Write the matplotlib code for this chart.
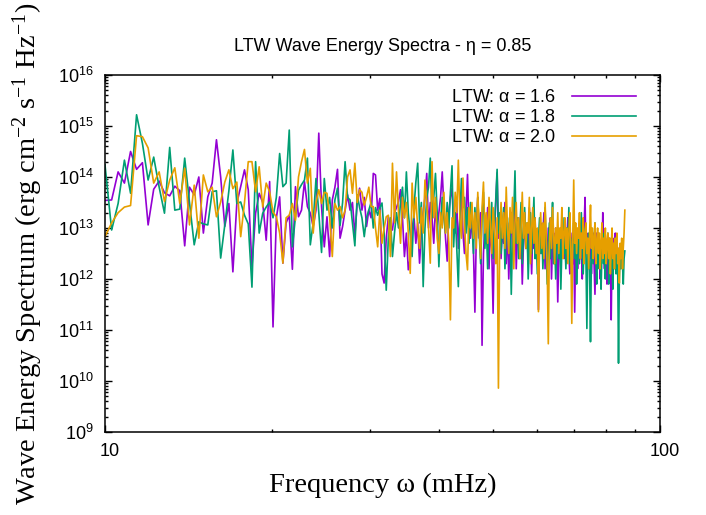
import matplotlib.pyplot as plt
import numpy as np
from matplotlib.transforms import ScaledTranslation

plt.rcParams['font.family'] = 'Liberation Sans'
plt.rcParams['mathtext.fontset'] = 'custom'
plt.rcParams['mathtext.rm'] = 'Liberation Serif'
plt.rcParams['mathtext.it'] = 'Liberation Serif:italic'
plt.rcParams['mathtext.sf'] = 'Liberation Sans'

# frequency grid (mHz)
f_start = 10.0
df = 0.28

# log10 of spectrum
alpha16 = [
    13.54, 13.55, 14.10, 13.88, 14.50, 14.15, 14.28, 13.06, 13.76, 13.92, 13.69, 13.63, 13.82, 13.73, 12.65, 13.80, 13.65, 14.00, 12.90,
    13.61, 13.88, 14.73, 14.00, 13.03, 13.48, 12.14, 13.48, 13.81, 14.14, 13.75, 12.24, 13.29, 13.68, 13.50, 12.76, 13.91, 11.06, 13.20, 13.61, 12.31, 13.10, 13.25,
    12.19, 13.81, 13.22, 13.35, 13.91, 13.42, 13.29, 13.03, 13.35, 14.86, 13.42, 12.63, 13.22, 12.44, 13.55, 13.80, 14.15, 12.80, 13.03, 13.35, 13.65,
    13.35, 13.50, 12.86, 13.50, 13.78, 13.35, 13.60, 13.03, 13.35, 13.20, 14.07, 14.04, 13.35,
    13.58, 12.1, 11.92, 12.8, 13.22, 13.0, 12.96, 13.3, 13.4, 13.52, 13.75, 13.2, 12.44, 12.9, 12.18, 12.4, 13.0, 13.22, 12.7, 13.1,
    12.31, 12.9, 13.3, 13.6, 14.07, 13.0, 13.5, 13.2, 12.7, 13.4, 13.0, 13.3, 13.6, 14.1, 13.4, 12.8, 12.35, 13.3, 13.6, 13.78,
    13.1, 12.9, 13.5, 12.6, 13.2, 13.7, 12.9, 12.5, 13.3, 14.05, 13.0, 12.8,
    13.2, 12.6, 11.35, 12.9, 13.6, 12.8, 13.3, 10.7, 12.5, 13.1, 12.7, 13.4, 12.2, 13.0, 12.6, 11.33, 12.9, 13.5, 14.08, 12.8,
    13.2, 12.4, 13.0, 12.7, 13.5, 12.3, 13.1, 12.0, 12.8, 13.3, 12.5, 12.9, 13.6, 12.2, 12.9, 13.2, 12.4, 13.0, 11.9, 12.7,
    13.3, 12.6, 13.0, 12.3, 13.4, 12.8, 12.1, 13.0, 12.6, 13.2, 12.4, 12.9, 11.4, 12.8, 13.1, 12.5, 12.9, 13.3, 12.2, 12.8,
    12.4, 13.0, 12.6, 13.2, 12.0, 12.7, 12.9, 12.3, 13.0, 12.6, 11.55, 12.5, 12.9, 12.2, 13.1, 12.7, 12.4, 13.0, 12.3, 12.8,
    13.2, 12.5, 12.1, 12.9, 12.6, 12.3, 12.8, 11.35, 12.6, 12.9, 12.2, 12.7, 13.1, 12.4, 12.8, 12.0, 12.6, 13.0, 13.6, 12.5,
    12.9, 12.2, 12.7, 12.4, 13.0, 12.1, 12.6, 12.9, 12.3, 11.7, 12.6, 12.9, 12.2, 12.8, 12.5, 12.0, 12.7, 12.4, 13.3, 12.6,
    12.2, 12.8, 12.5, 11.9, 12.6, 12.3, 12.8, 12.4, 11.2, 12.5, 12.8, 12.2, 12.6, 12.9, 12.3, 12.7, 12.1, 12.6, 12.4, 12.55,
]

alpha18 = [
    14.24, 12.96, 13.48, 14.33, 13.68, 15.22, 14.66, 13.94, 14.39, 13.80, 13.29, 14.58, 13.35, 13.37, 14.37, 13.50, 12.67, 13.12, 13.08,
    13.06, 13.71, 13.73, 12.41, 13.06, 13.73, 14.53, 13.48, 13.51, 13.25, 13.08, 11.84, 14.30, 12.90, 13.29, 13.41, 13.51, 13.20, 13.60, 14.46, 13.81, 13.88, 14.92,
    12.63, 13.22, 13.74, 13.85, 13.94, 14.37, 12.67, 13.10, 13.97, 13.30, 12.52, 13.97, 13.35, 13.60, 13.00, 13.55, 13.78,
    13.05, 13.50, 14.30, 13.60, 13.55, 13.10, 12.65, 13.65, 13.40, 13.20, 12.83, 13.20, 13.35, 13.50, 13.00, 13.40, 13.25,
    13.4, 13.49, 12.9, 11.78, 12.8, 13.2, 12.44, 12.9, 13.3, 13.0, 13.5, 13.8, 13.2, 14.1, 13.3, 12.9, 12.44, 13.4, 13.9, 14.27,
    13.1, 13.5, 11.85, 13.0, 13.6, 13.8, 14.37, 13.2, 13.6, 14.07, 13.3, 12.24, 13.1, 13.6, 13.2, 12.9, 13.5, 13.0, 13.7, 14.22,
    12.63, 13.3, 12.6, 11.85, 13.2, 13.97, 13.4, 13.6, 12.9, 13.4, 12.7, 13.5,
    13.1, 12.5, 13.4, 12.8, 13.6, 12.9, 12.3, 13.2, 13.7, 12.6, 13.1, 12.2, 13.3, 12.8, 13.5, 12.4, 13.0, 13.6, 14.15, 12.9,
    13.3, 12.5, 13.0, 13.4, 12.2, 12.9, 13.2, 12.6, 13.0, 11.7, 12.8, 13.3, 14.12, 12.7, 13.2, 12.4, 13.0, 13.5, 12.3, 12.9,
    13.4, 12.6, 13.1, 12.0, 12.7, 13.3, 12.5, 13.0, 13.6, 12.4, 12.9, 12.1, 12.8, 13.2, 12.5, 13.0, 12.2, 12.8, 13.4, 12.6,
    11.9, 12.7, 13.1, 12.4, 12.9, 13.5, 12.3, 12.8, 12.0, 12.6, 13.0, 12.4, 12.9, 11.8, 12.6, 13.2, 12.5, 12.8, 12.2, 13.0,
    12.6, 13.4, 12.3, 12.8, 12.1, 12.7, 13.1, 12.4, 12.9, 11.9, 12.6, 13.0, 12.3, 12.8, 13.3, 12.5, 12.1, 12.7, 13.0, 12.4,
    11.03, 12.6, 12.9, 12.2, 10.77, 12.5, 12.9, 12.3, 12.7, 13.1, 12.4, 11.9, 12.6, 12.9, 12.2, 12.7, 11.8, 12.5, 12.9, 12.3,
    12.6, 12.0, 12.7, 12.4, 12.9, 11.9, 12.5, 12.2, 12.8, 12.4, 11.8, 12.6, 12.3, 12.8, 12.1, 12.5, 12.2, 10.35, 12.0, 12.5,
    12.2, 12.6, 12.3, 11.9, 12.4, 12.55,
]

alpha20 = [
    12.83, 13.10, 13.30, 13.41, 13.44, 14.81, 14.79, 14.57, 13.88, 14.10, 13.52, 13.94, 14.18, 13.48, 14.17, 13.06, 13.84, 12.80, 14.04,
    13.71, 13.80, 13.22, 13.51, 13.90, 14.14, 13.77, 13.90, 12.83, 13.50, 14.30, 14.30, 13.71, 14.20, 13.41, 13.88, 13.71, 13.31, 13.22, 12.90, 12.31, 13.20, 13.25,
    13.48, 13.15, 14.00, 14.30, 14.54, 13.88, 14.17, 12.90, 13.50, 13.75, 13.48, 13.70, 13.68, 13.20, 12.44, 13.48, 13.35,
    13.42, 13.20, 13.35, 14.00, 14.14, 13.68, 14.27, 13.50, 13.75, 13.70, 13.45, 13.60, 13.80, 13.42, 13.42, 13.00, 12.63,
    13.35, 12.7, 13.0, 13.22, 13.25, 12.44, 14.27, 13.1, 14.1, 13.3, 12.7, 13.6, 13.2, 13.5, 12.9, 12.11, 13.88, 13.2, 13.6, 13.0,
    12.6, 13.4, 12.9, 13.94, 13.5, 13.0, 12.31, 14.3, 13.2, 13.6, 12.8, 12.5, 13.3, 13.0, 13.7, 12.9, 13.3, 12.7, 11.2, 13.2,
    13.0, 13.7, 13.3, 14.33, 13.2, 12.8, 13.98, 13.1, 12.5, 12.18, 13.4, 13.0,
    13.5, 12.8, 13.3, 12.6, 13.7, 13.0, 12.4, 13.4, 13.9, 12.9, 13.3, 12.7, 13.6, 13.1, 12.5, 13.4, 13.0, 12.3, 13.2, 9.86,
    12.9, 13.5, 12.8, 13.3, 12.6, 13.8, 13.0, 12.5, 13.4, 12.9, 13.6, 12.2, 13.1, 13.5, 12.7, 13.2, 12.4, 13.0, 13.7, 12.8,
    13.3, 12.6, 13.1, 12.9, 13.6, 12.3, 13.0, 13.4, 12.7, 13.2, 12.5, 13.0, 11.36, 12.8, 13.3, 12.6, 13.1, 12.4, 13.5, 12.9,
    12.2, 10.73, 12.7, 13.2, 12.6, 13.4, 12.9, 12.3, 13.0, 12.7, 13.3, 12.5, 13.0, 12.8, 13.4, 12.4, 12.9, 13.2, 12.6, 13.0,
    12.3, 12.9, 13.3, 12.6, 11.13, 12.8, 13.94, 12.7, 13.1, 12.5, 13.0, 12.8, 13.3, 12.4, 12.9, 12.6, 13.2, 12.3, 12.9, 13.1,
    12.5, 12.8, 12.2, 12.9, 13.45, 12.6, 13.0, 12.4, 12.8, 13.1, 12.3, 12.7, 13.0, 12.5, 12.9, 12.2, 12.7, 13.1, 12.4, 12.8,
    12.5, 13.0, 12.3, 12.7, 12.9, 12.4, 12.8, 12.1, 12.6, 13.0, 12.4, 12.7, 12.2, 12.8, 12.5, 12.9, 12.3, 12.6, 11.92, 12.7,
    12.4, 12.8, 12.2, 12.6, 12.9, 13.35,
]

labels = [r'LTW: $\mathsf{\alpha}$ = 1.6', r'LTW: $\mathsf{\alpha}$ = 1.8', r'LTW: $\mathsf{\alpha}$ = 2.0']
colors = ['#9400D3', '#009E73', '#E69F00']

fig = plt.figure(figsize=(7.06, 5.15), dpi=100)
ax = fig.add_axes([0.1487, 0.1612, 0.7861, 0.6932])

for vals, lab, c in zip([alpha16, alpha18, alpha20], labels, colors):
    freq = f_start + df * np.arange(len(vals))
    ax.plot(freq, 10 ** np.array(vals), color=c, lw=1.2, label=lab)

ax.set_xscale('log')
ax.set_yscale('log')
ax.set_xlim(10, 100)
ax.set_ylim(1e9, 1e16)

ax.set_xticks([10, 100])
ax.set_xticklabels(['10', '100'])
ax.set_xticks(np.arange(20, 100, 10), minor=True)
ax.set_xticklabels([], minor=True)
yt = [10.0 ** k for k in range(9, 17)]
ax.set_yticks(yt)
ax.set_yticklabels([r'$\mathsf{10^{%d}}$' % k for k in range(9, 17)])
ax.yaxis.set_minor_locator(plt.matplotlib.ticker.LogLocator(base=10, subs=np.arange(2, 10), numticks=20))
ax.yaxis.set_minor_formatter(plt.NullFormatter())

ax.tick_params(which='both', direction='in', top=True, right=True, labelsize=13)
ax.tick_params(which='major', length=5, width=1)
ax.tick_params(which='minor', length=2.5, width=1)
ax.tick_params(axis='x', pad=8)
ax.tick_params(axis='y', pad=8)
for s in ax.spines.values():
    s.set_linewidth(1.1)
# gnuplot puts the x labels a little right of the tick
shift = ScaledTranslation(5 / 100, 0, fig.dpi_scale_trans)
for t in ax.get_xticklabels():
    t.set_transform(t.get_transform() + shift)

ax.set_title('LTW Wave Energy Spectra - η = 0.85', fontsize=13, pad=17)
ax.set_xlabel('Frequency ω (mHz)', fontfamily='Liberation Serif', fontsize=20.5)
ax.set_ylabel(r'Wave Energy Spectrum (erg cm$^{-2}$ s$^{-1}$ Hz$^{-1}$)', fontfamily='Liberation Serif', fontsize=20.5)
ax.xaxis.set_label_coords(0.5, -0.115)
ax.yaxis.set_label_coords(-0.108, 0.5)

ax.legend(loc='upper right', bbox_to_anchor=(1 - 10 / 555, 1), frameon=False, markerfirst=False, fontsize=13,
          handlelength=3.5, handletextpad=0.9, labelspacing=0.15,
          borderaxespad=0.4, borderpad=0.4)

fig.savefig('out.png', dpi=100)
